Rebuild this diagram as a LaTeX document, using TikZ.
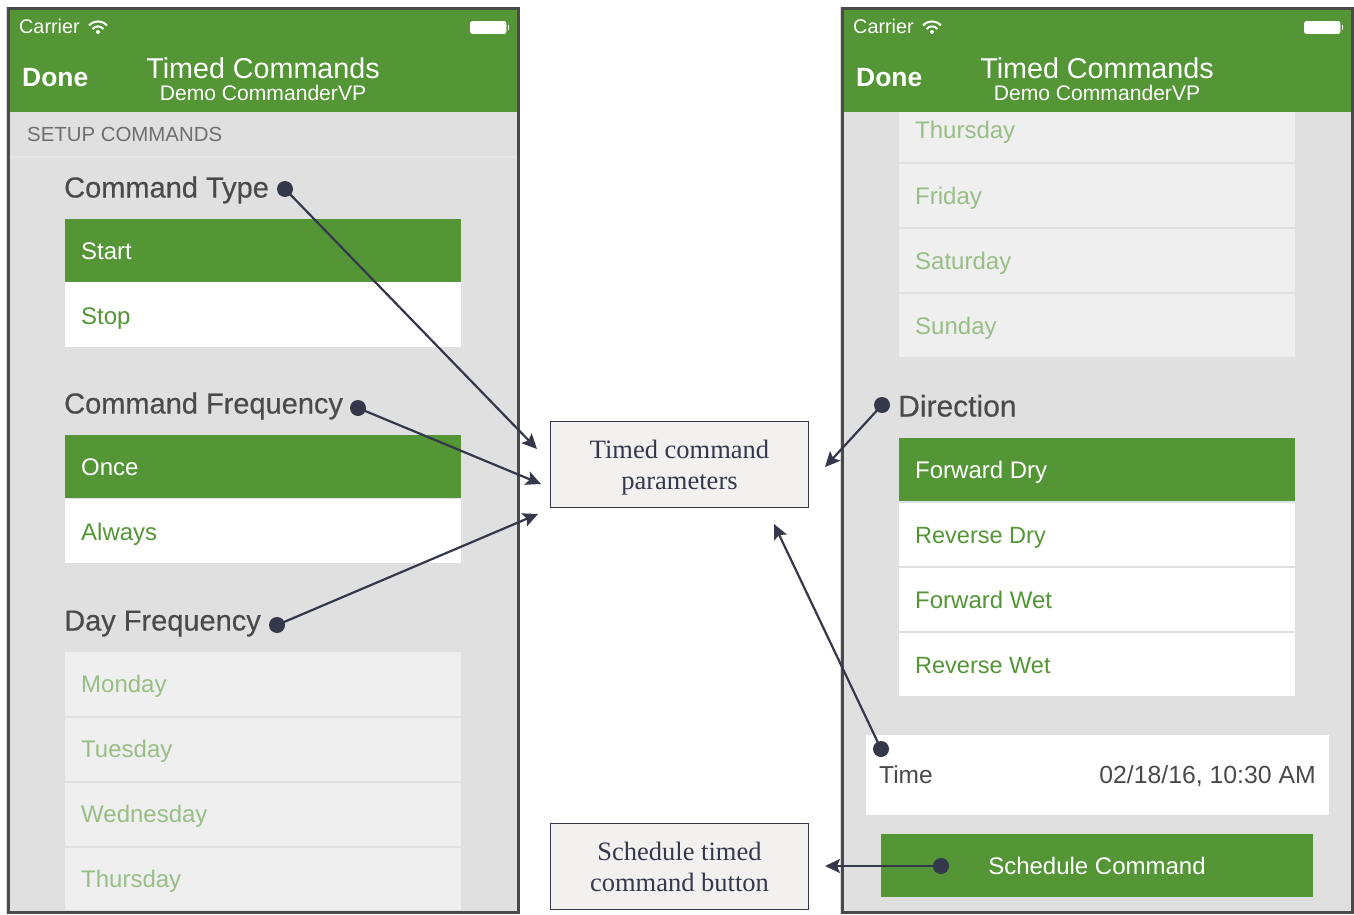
\documentclass[tikz,border=0pt]{standalone}
\usepackage{fontspec}
\setmainfont{Liberation Serif}
\newfontfamily\uifont{Liberation Sans}
\newfontfamily\uiheadfont[FakeBold=0.35]{Liberation Sans}
\usetikzlibrary{arrows.meta}
\definecolor{ugreen}{HTML}{549536}
\definecolor{ubg}{HTML}{E0E0E0}
\definecolor{uoff}{HTML}{EFEFEF}
\definecolor{ufaded}{HTML}{98BE85}
\definecolor{uhead}{HTML}{4A4A4A}
\definecolor{usub}{HTML}{6F6F6F}
\definecolor{uink}{HTML}{34384A}
\definecolor{uframe}{HTML}{4A4A4A}
\definecolor{ucall}{HTML}{F2F1F0}
\newcommand{\uisize}[1]{\uifont\fontsize{#1}{#1}\selectfont}
\tikzset{
  x=1pt,y=-1pt,
  frame/.style={draw=uframe,line width=3pt,fill=ubg},
  halo/.style={draw=black!14,line width=4.5pt},
  gbar/.style={fill=ugreen},
  rowon/.style={fill=ugreen},
  rowwhite/.style={fill=white},
  rowoff/.style={fill=uoff},
  ui/.style={inner sep=0pt,anchor=base west},
  rowlabel/.style={ui,font=\uisize{24}},
  rowlabelsmall/.style={ui,font=\uisize{23.5}},
  white text/.style={text=white},
  green text/.style={text=ugreen},
  faded text/.style={text=ufaded},
  carrier/.style={ui,text=white,font=\uisize{19.8}},
  done/.style={ui,text=white,font=\uifont\bfseries\fontsize{26.4}{26.4}\selectfont},
  title/.style={inner sep=0pt,anchor=base,text=white,font=\uisize{28.7}},
  subtitle/.style={inner sep=0pt,anchor=base,text=white,font=\uisize{21.1}},
  heading/.style={ui,text=uhead,font=\uiheadfont\fontsize{29}{29}\selectfont},
  callout/.style={draw=uink,line width=0.8pt,fill=ucall,text=uink,minimum width=258pt,minimum height=86pt,
    inner sep=0pt,align=center,font=\fontsize{26.5}{31}\selectfont},
  dot/.style={circle,fill=uink,inner sep=0pt,minimum size=16pt},
  pointer/.style={draw=uink,line width=2.2pt,-{Stealth[length=15pt,width=14pt,inset=3pt]}},
  battery/.style={draw=white,fill=white,rounded corners=2pt,line width=0.8pt},
  wifi/.style={draw=white,line width=2pt},
}
\begin{document}
\begin{tikzpicture}
\useasboundingbox (0,0) rectangle (1354,915);
\fill[white] (0,0) rectangle (1354,915);

% ---- left phone
\draw[halo] (8,9) rectangle (518,912);
\draw[frame] (8,9) rectangle (518,912);
\fill[gbar] (9.5,10.5) rectangle (516.5,112);
\draw[black!10,line width=1.5pt] (9.5,157) -- (516.5,157);
\node[carrier] (lcar) at (19,34) {Carrier};
\draw[wifi] (89,25.5) .. controls (94,20) and (102,20) .. (107,25.5);
\draw[wifi] (92.5,29) .. controls (95.5,25.5) and (100.5,25.5) .. (103.5,29);
\fill[white] (98,32) circle (2);
\draw[battery] (470.5,21.5) rectangle (506,33.5);
\fill[white] (507.5,25) rectangle (509,30);
\node[done] (ldone) at (22,87) {Done};
\node[title] (ltitle) at (263,78.5) {Timed Commands};
\node[subtitle] (lsub) at (263,100.5) {Demo CommanderVP};
\node[ui,text=usub,font=\uisize{20.4}] (lsetup) at (27,141.5) {SETUP COMMANDS};

\node[heading] (hct) at (64,197.5) {Command Type};
\fill[rowon] (65,219) rectangle (461,282);
\fill[rowwhite] (65,282) rectangle (461,347);
\node[rowlabel,white text] (lstart) at (81,259) {Start};
\node[rowlabel,green text] (lstop) at (81,324) {Stop};

\node[heading] (hcf) at (64,413.5) {Command Frequency};
\fill[rowon] (65,435) rectangle (461,498);
\fill[rowwhite] (65,499) rectangle (461,563);
\node[rowlabel,white text] (lonce) at (81,475) {Once};
\node[rowlabel,green text] (lalways) at (81,540) {Always};

\node[heading] (hdf) at (64,630.5) {Day Frequency};
\fill[rowoff] (65,652) rectangle (461,716);
\fill[rowoff] (65,717.5) rectangle (461,781);
\fill[rowoff] (65,782.5) rectangle (461,846);
\fill[rowoff] (65,847.5) rectangle (461,910);
\node[rowlabel,faded text] (lmon) at (81,692) {Monday};
\node[rowlabel,faded text] (ltue) at (81,757) {Tuesday};
\node[rowlabel,faded text] (lwed) at (81,822) {Wednesday};
\node[rowlabel,faded text] (lthu) at (81,887) {Thursday};

% ---- right phone
\draw[halo] (842,9) rectangle (1352,912);
\draw[frame] (842,9) rectangle (1352,912);
\fill[gbar] (843.5,10.5) rectangle (1350.5,112);
\node[carrier] (rcar) at (853,34) {Carrier};
\draw[wifi] (923,25.5) .. controls (928,20) and (936,20) .. (941,25.5);
\draw[wifi] (926.5,29) .. controls (929.5,25.5) and (934.5,25.5) .. (937.5,29);
\fill[white] (932,32) circle (2);
\draw[battery] (1304.5,21.5) rectangle (1340,33.5);
\fill[white] (1341.5,25) rectangle (1343,30);
\node[done] (rdone) at (856,87) {Done};
\node[title] (rtitle) at (1097,78.5) {Timed Commands};
\node[subtitle] (rsub) at (1097,100.5) {Demo CommanderVP};

\fill[rowoff] (899,112) rectangle (1295,162);
\fill[rowoff] (899,164) rectangle (1295,227);
\fill[rowoff] (899,229) rectangle (1295,292);
\fill[rowoff] (899,294) rectangle (1295,357);
\node[rowlabel,faded text] (rthu) at (915,139) {Thursday};
\node[rowlabel,faded text] (rfri) at (915,204) {Friday};
\node[rowlabel,faded text] (rsat) at (915,269) {Saturday};
\node[rowlabel,faded text] (rsun) at (915,334) {Sunday};

\node[heading,font=\uiheadfont\fontsize{30}{30}\selectfont] (hdir) at (898,416.5) {Direction};
\fill[rowon] (899,438) rectangle (1295,501);
\fill[rowwhite] (899,503) rectangle (1295,566);
\fill[rowwhite] (899,568) rectangle (1295,631);
\fill[rowwhite] (899,633) rectangle (1295,696);
\node[rowlabel,white text] (rfd) at (915,478.5) {Forward Dry};
\node[rowlabelsmall,green text] (rrd) at (915,543.5) {Reverse Dry};
\node[rowlabel,green text] (rfw) at (915,608) {Forward Wet};
\node[rowlabelsmall,green text] (rrw) at (915,673) {Reverse Wet};

\fill[white] (866,735) rectangle (1329,815);
\node[ui,text=uhead,font=\uisize{24.5}] (ltime) at (879,783.5) {Time};
\node[inner sep=0pt,anchor=base east,text=uhead,font=\uisize{24.8}] (ldate) at (1316,783.5) {02/18/16, 10:30 AM};
\fill[gbar] (881,834) rectangle (1313,897);
\node[inner sep=0pt,anchor=base,text=white,font=\uisize{24}] (lsched) at (1097,874) {Schedule Command};

% ---- callouts
\node[callout] (params) at (679.5,464) {\rule{0pt}{26pt}Timed command\\parameters};
\node[callout] (button) at (679.5,866) {\rule{0pt}{20pt}Schedule timed\\command button};

% ---- pointers
\node[dot] (d1) at (285,189) {};
\node[dot] (d2) at (358,408) {};
\node[dot] (d3) at (277,625) {};
\node[dot] (d4) at (882,405) {};
\node[dot] (d5) at (881,749) {};
\node[dot] (d6) at (941,866) {};
\coordinate (e1) at (537,449);
\coordinate (e2) at (541,484);
\coordinate (e3) at (538,514);
\coordinate (e4) at (825,467);
\coordinate (e5) at (774,524);
\coordinate (e6) at (825,866);
\draw[pointer] (d1.center) -- (e1);
\draw[pointer] (d2.center) -- (e2);
\draw[pointer] (d3.center) -- (e3);
\draw[pointer] (d4.center) -- (e4);
\draw[pointer] (d5.center) -- (e5);
\draw[pointer] (d6.center) -- (e6);
\end{tikzpicture}
\end{document}
